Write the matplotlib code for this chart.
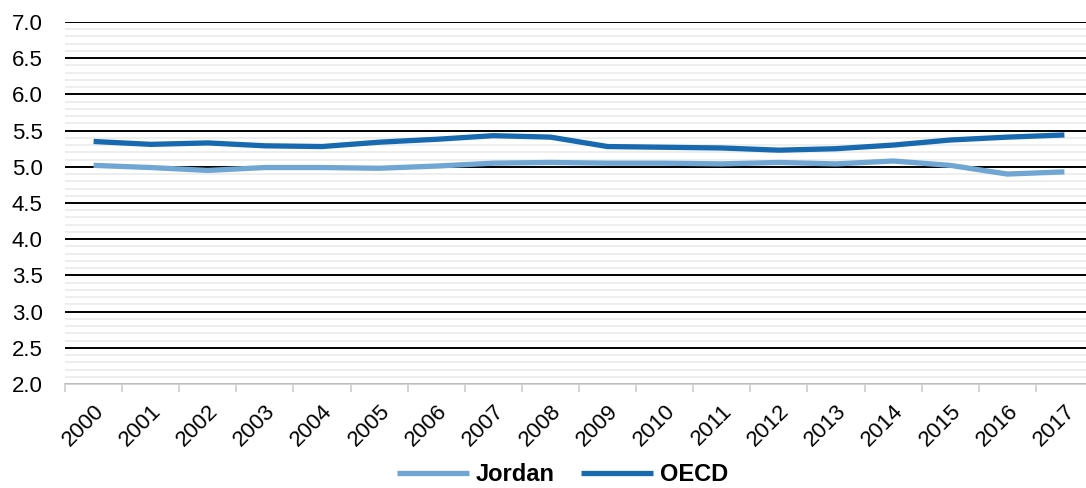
import matplotlib.pyplot as plt
from matplotlib.ticker import MultipleLocator, FixedLocator, NullFormatter

plt.rcParams['font.family'] = ['Liberation Sans', 'DejaVu Sans']

years = [str(y) for y in range(2000, 2018)]
jordan = [5.02, 4.99, 4.95, 4.99, 4.99, 4.98, 5.01, 5.05, 5.06, 5.05,
          5.05, 5.04, 5.06, 5.04, 5.08, 5.02, 4.90, 4.93]
oecd = [5.35, 5.31, 5.33, 5.29, 5.28, 5.34, 5.38, 5.43, 5.41, 5.28,
        5.27, 5.26, 5.23, 5.25, 5.30, 5.37, 5.41, 5.44]

fig = plt.figure(figsize=(10.86, 4.88), dpi=100)
ax = fig.add_axes([0.0599, 0.2131, 0.9465, 0.7418])

x = list(range(len(years)))
ax.plot(x, jordan, color='#6fa6d3', lw=3.8, label='Jordan', solid_capstyle='butt', zorder=3)
ax.plot(x, oecd, color='#1769b0', lw=3.8, label='OECD', solid_capstyle='butt', zorder=4)

ax.set_ylim(2.0, 7.0)
ax.set_xlim(-0.5, len(years) - 0.5)
ax.yaxis.set_major_locator(MultipleLocator(0.5))
ax.yaxis.set_minor_locator(MultipleLocator(0.1))
ax.yaxis.set_major_formatter(lambda v, p: f'{v:.1f}')
ax.grid(axis='y', which='minor', color='#ededed', lw=1.3, zorder=0)
ax.grid(axis='y', which='major', color='black', lw=1.4, zorder=1)
ax.tick_params(axis='y', which='both', length=0, labelsize=16, pad=16)

ax.set_xticks(x)
ax.set_xticklabels(years, rotation=45, ha='right', va='top', rotation_mode='anchor', fontsize=16)
ax.xaxis.set_minor_locator(FixedLocator([i - 0.5 for i in range(len(years) + 1)]))
ax.xaxis.set_minor_formatter(NullFormatter())
ax.tick_params(axis='x', which='major', length=0, pad=12)
ax.tick_params(axis='x', which='minor', length=6, color='#d0d0d0', width=1.3)

for s in ['top', 'right', 'left']:
    ax.spines[s].set_visible(False)
ax.spines['bottom'].set_color('#d0d0d0')
ax.spines['bottom'].set_linewidth(1.3)
ax.set_axisbelow(True)

leg = fig.legend(loc='center', bbox_to_anchor=(0.518, 0.028), ncol=2, frameon=False,
                 prop={'weight': 'bold', 'size': 17}, handlelength=3.05, columnspacing=1.1,
                 handletextpad=0.3)

fig.savefig('out.png', dpi=100)
